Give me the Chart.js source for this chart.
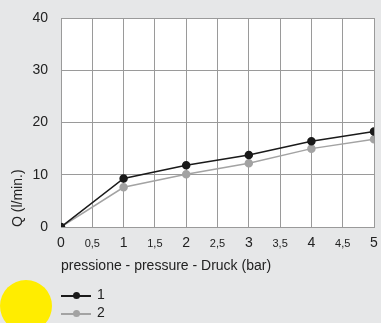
<!DOCTYPE html>
<html>
<head>
<meta charset="utf-8">
<script src="https://cdn.jsdelivr.net/npm/chart.js@4/dist/chart.umd.min.js"></script>
<style>
  html, body { margin: 0; padding: 0; background: #e6e7e8; }
  #wrap { position: relative; width: 381px; height: 323px; overflow: hidden; background: #e6e7e8; }
  #sun { position: absolute; left: 0px; top: 280px; width: 52px; height: 52px; border-radius: 50%; background: #ffed00; }
  canvas { position: absolute; left: 0; top: 0; }
  .leg { position: absolute; left: 61px; font-family: "Liberation Sans", Arial, sans-serif; font-size: 14px; color: #222; }
  .leg .ln { position: absolute; left: 0; width: 30px; height: 1.5px; }
  .leg .dt { position: absolute; left: 12px; width: 7px; height: 7px; border-radius: 50%; }
  .leg .tx { position: absolute; left: 36px; }
</style>
</head>
<body>
<div id="wrap">
  <div id="sun"></div>
  <canvas id="c" width="381" height="323"></canvas>
  <div id="legend"></div>
</div>
<script>
const pressures = [0, 1, 2, 3, 4, 5];
const series1 = [0, 9.3, 11.8, 13.8, 16.4, 18.3];
const series2 = [0, 7.6, 10.1, 12.2, 15.0, 16.8];
const seriesNames = ['1', '2'];
const seriesColors = ['#1a1a1a', '#a3a3a3'];
const yTicks = [0, 10, 20, 30, 40];
const xTitle = 'pressione - pressure - Druck (bar)';
const yTitle = 'Q (l/min.)';

const FONT = '"Liberation Sans", Arial, sans-serif';

function toXY(vals) { return pressures.map((p, i) => ({ x: p, y: vals[i] })); }

const chart = new Chart(document.getElementById('c'), {
  type: 'line',
  data: {
    datasets: [
      { label: seriesNames[0], data: toXY(series1), borderColor: seriesColors[0], backgroundColor: seriesColors[0],
        borderWidth: 1.5, pointRadius: 3.5, pointHoverRadius: 3.5, order: 0 },
      { label: seriesNames[1], data: toXY(series2), borderColor: seriesColors[1], backgroundColor: seriesColors[1],
        borderWidth: 1.5, pointRadius: 3.5, pointHoverRadius: 3.5, order: 1 }
    ]
  },
  options: {
    responsive: false,
    animation: false,
    events: [],
    layout: { padding: { left: 0, right: 7, top: 18, bottom: 0 } },
    plugins: { legend: { display: false }, tooltip: { enabled: false } },
    scales: {
      x: {
        type: 'linear', min: 0, max: 5,
        afterBuildTicks: s => { const t = []; for (let v = 0; v <= 5; v += 0.5) t.push({ value: v }); s.ticks = t; },
        afterFit: s => { s.height = 96; s.paddingLeft = 0; s.paddingRight = 0; },
        grid: { color: '#9a9a9a', lineWidth: 1, drawTicks: false },
        border: { color: '#9a9a9a' },
        ticks: {
          padding: 8, color: '#222', maxRotation: 0, autoSkip: false,
          callback: v => String(v).replace('.', ','),
          font: ctx => (ctx.tick && !Number.isInteger(ctx.tick.value))
            ? { family: FONT, size: 11, lineHeight: 1.72 }
            : { family: FONT, size: 14, lineHeight: 1.2 }
        },
        title: { display: true, text: xTitle, align: 'start', color: '#222', font: { family: FONT, size: 14 }, padding: { top: 0, bottom: 48 } }
      },
      y: {
        min: 0, max: 40,
        afterBuildTicks: s => { s.ticks = yTicks.map(v => ({ value: v })); },
        afterFit: s => { s.width = 61; s.paddingTop = 0; s.paddingBottom = 0; },
        grid: { color: '#9a9a9a', lineWidth: 1, drawTicks: false },
        border: { color: '#9a9a9a' },
        ticks: { padding: 13, color: '#222', font: { family: FONT, size: 14 } },
        title: { display: true, text: yTitle, align: 'start', color: '#222', font: { family: FONT, size: 14 }, padding: { top: 10, bottom: 0 } }
      }
    }
  },
  plugins: [{
    id: 'whiteArea',
    beforeDraw(c) {
      const a = c.chartArea, ctx = c.ctx;
      ctx.save(); ctx.fillStyle = '#ffffff'; ctx.fillRect(a.left, a.top, a.right - a.left, a.bottom - a.top); ctx.restore();
    }
  }]
});

// legend built from the dataset names/colours
const leg = document.getElementById('legend');
seriesNames.forEach((n, i) => {
  const d = document.createElement('div');
  d.className = 'leg';
  d.style.top = (286 + i * 18) + 'px';
  d.innerHTML = '<div class="ln" style="top:9px;background:' + seriesColors[i] + '"></div>' +
    '<div class="dt" style="top:6px;background:' + seriesColors[i] + '"></div>' +
    '<div class="tx">' + n + '</div>';
  leg.appendChild(d);
});
</script>
</body>
</html>
